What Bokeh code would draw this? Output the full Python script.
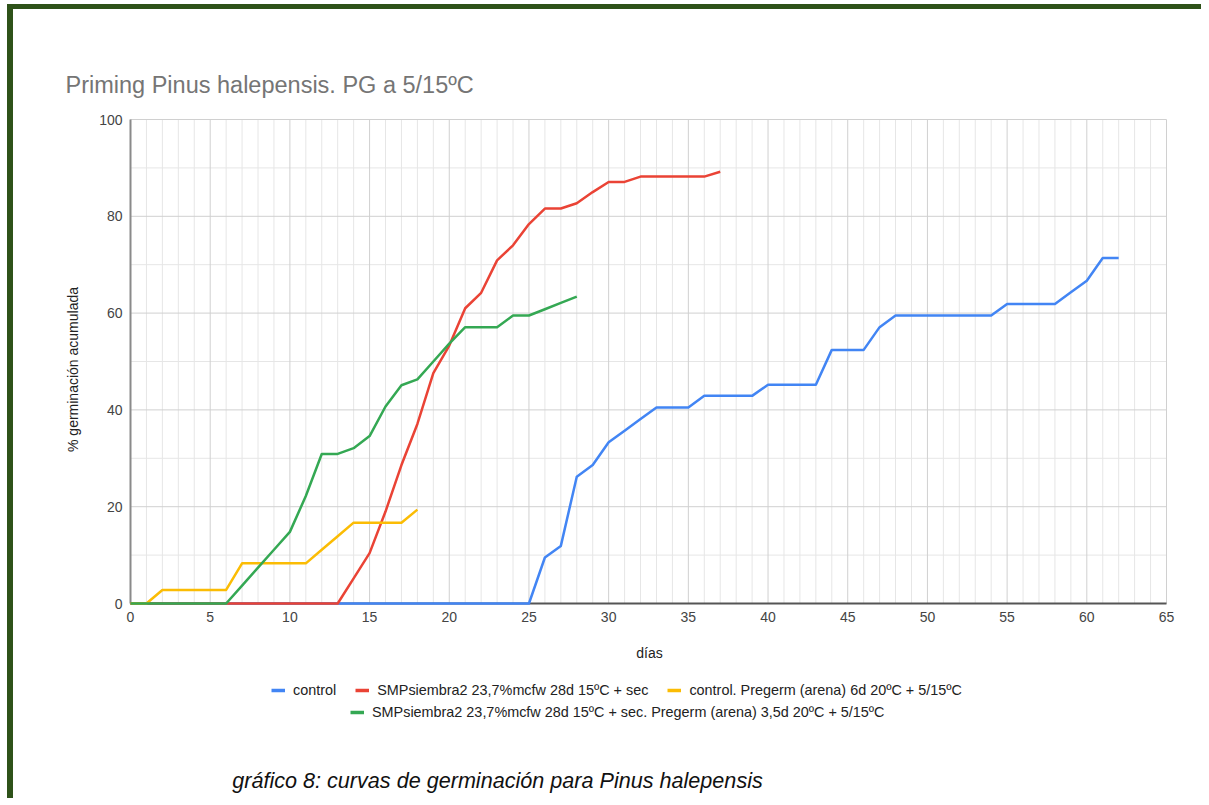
from bokeh.plotting import figure
from bokeh.models import Range1d, Legend, LegendItem
from bokeh.embed import file_html
from bokeh.resources import INLINE
from bokeh.core.properties import value
import math

# ---------------- data ----------------
title_text = "Priming Pinus halepensis. PG a 5/15ºC"
x_label = "días"
y_label = "% germinación acumulada"
caption_text = "gráfico 8: curvas de germinación para Pinus halepensis"

series_names = [
    "control",
    "SMPsiembra2 23,7%mcfw 28d 15ºC + sec",
    "control. Pregerm (arena) 6d 20ºC + 5/15ºC",
    "SMPsiembra2 23,7%mcfw 28d 15ºC + sec. Pregerm (arena) 3,5d 20ºC + 5/15ºC",
]
series_colors = ["#4285F4", "#EA4335", "#FBBC04", "#34A853"]

control_days = list(range(0, 63))
control_vals = [0, 0, 0, 0, 0, 0, 0, 0, 0, 0,
                0, 0, 0, 0, 0, 0, 0, 0, 0, 0,
                0, 0, 0, 0, 0, 0, 9.5, 11.9, 26.2, 28.6,
                33.3, 35.7, 38.1, 40.5, 40.5, 40.5, 42.9, 42.9, 42.9, 42.9,
                45.2, 45.2, 45.2, 45.2, 52.4, 52.4, 52.4, 57.1, 59.5, 59.5,
                59.5, 59.5, 59.5, 59.5, 59.5, 61.9, 61.9, 61.9, 61.9, 64.3,
                66.7, 71.4, 71.4]

smp_days = list(range(0, 38))
smp_vals = [0, 0, 0, 0, 0, 0, 0, 0, 0, 0,
            0, 0, 0, 0, 5.2, 10.4, 19.0, 28.6, 37.1, 47.6,
            53.3, 61.0, 64.2, 70.9, 74.0, 78.4, 81.6, 81.6, 82.7, 85.0,
            87.1, 87.1, 88.2, 88.2, 88.2, 88.2, 88.2, 89.2]

ctrl_pre_days = list(range(0, 19))
ctrl_pre_vals = [0, 0, 2.8, 2.8, 2.8, 2.8, 2.8, 8.3, 8.3, 8.3,
                 8.3, 8.3, 11.1, 13.9, 16.7, 16.7, 16.7, 16.7, 19.4]

smp_pre_days = list(range(0, 29))
smp_pre_vals = [0, 0, 0, 0, 0, 0, 0, 3.7, 7.4, 11.1,
                14.8, 22.2, 30.9, 30.9, 32.1, 34.6, 40.7, 45.1, 46.3, 50.0,
                53.7, 57.1, 57.1, 57.1, 59.5, 59.5, 60.8, 62.1, 63.4]

x_ticks = [0, 5, 10, 15, 20, 25, 30, 35, 40, 45, 50, 55, 60, 65]
y_ticks = [0, 20, 40, 60, 80, 100]
x_minor_step = 1
y_minor_step = 10
x_min, x_max = 0, 65
y_min, y_max = 0, 100

# ---------------- layout (page pixels) ----------------
FONT = "Liberation Sans"
W, H = 1194, 794
CANVAS_X, CANVAS_Y = 13, 9          # canvas origin on page
PLOT_L, PLOT_R, PLOT_T, PLOT_B = 130, 1166, 119, 603
ppx = (PLOT_R - PLOT_L) / (x_max - x_min)
ppy = (PLOT_B - PLOT_T) / (y_max - y_min)


def px2x(px):
    return x_min + (px - PLOT_L) / ppx


def py2y(py):
    return y_min + (PLOT_B - py) / ppy


p = figure(width=W, height=H, output_backend="svg", toolbar_location=None,
           x_range=Range1d(px2x(CANVAS_X), px2x(CANVAS_X + W)),
           y_range=Range1d(py2y(CANVAS_Y + H), py2y(CANVAS_Y)),
           x_axis_location=None, y_axis_location=None,
           min_border=0, title=None)
p.styles = {"border-top": "5px solid #2e5219", "border-left": "6px solid #2e5219",
            "margin-top": "4px", "margin-left": "7px"}
p.outline_line_color = None
p.grid.visible = False
p.background_fill_color = "white"
p.border_fill_color = "white"

# ---------------- grid ----------------
minor_x = [v for v in range(x_min, x_max + 1, x_minor_step) if v not in x_ticks]
minor_y = [v for v in range(y_min, y_max + 1, y_minor_step) if v not in y_ticks]
p.segment(x0=minor_x, y0=[y_min] * len(minor_x), x1=minor_x, y1=[y_max] * len(minor_x),
          line_color="#e6e6e6", line_width=1)
p.segment(x0=[x_min] * len(minor_y), y0=minor_y, x1=[x_max] * len(minor_y), y1=minor_y,
          line_color="#e6e6e6", line_width=1)
p.segment(x0=x_ticks, y0=[y_min] * len(x_ticks), x1=x_ticks, y1=[y_max] * len(x_ticks),
          line_color="#d0d0d0", line_width=1)
p.segment(x0=[x_min] * len(y_ticks), y0=y_ticks, x1=[x_max] * len(y_ticks), y1=y_ticks,
          line_color="#d0d0d0", line_width=1)
# axis baselines
p.segment(x0=[x_min], y0=[y_min], x1=[x_min], y1=[y_max], line_color="#8a8a8a", line_width=2)
p.segment(x0=[x_min], y0=[y_min], x1=[x_max], y1=[y_min], line_color="#555555", line_width=2)

# tick labels
p.text(x=x_ticks, y=[y_min] * len(x_ticks), text=[str(t) for t in x_ticks],
       y_offset=8, text_align="center", text_baseline="top",
       text_font=value(FONT), text_font_size="14px", text_color="#444444")
p.text(x=[x_min] * len(y_ticks), y=y_ticks, text=[str(t) for t in y_ticks],
       x_offset=-8, text_align="right", text_baseline="middle",
       text_font=value(FONT), text_font_size="14px", text_color="#444444")

# ---------------- series ----------------
all_days = [control_days, smp_days, ctrl_pre_days, smp_pre_days]
all_vals = [control_vals, smp_vals, ctrl_pre_vals, smp_pre_vals]
for d, v, c in zip(all_days, all_vals, series_colors):
    p.line(d, v, line_color=c, line_width=2.5, line_join="round")

# ---------------- texts ----------------
p.text(x=[px2x(65)], y=[py2y(84)], text=[title_text], text_align="left",
       text_baseline="alphabetic", text_font=value(FONT), text_font_size="23.5px",
       text_color="#757575")
p.text(x=[px2x(72)], y=[py2y(369)], text=[y_label], angle=math.pi / 2,
       text_align="center", text_baseline="middle", text_font=value(FONT),
       text_font_size="14px", text_color="#222222")
p.text(x=[px2x(649)], y=[py2y(652)], text=[x_label], text_align="center",
       text_baseline="middle", text_font=value(FONT), text_font_size="14px",
       text_color="#222222")
p.text(x=[px2x(497)], y=[py2y(780)], text=[caption_text], text_align="center",
       text_baseline="middle", text_font=value(FONT), text_font_size="21.6px",
       text_font_style="italic", text_color="#111111")

# ---------------- legend ----------------
nan = float("nan")
items = []
for name, c in zip(series_names, series_colors):
    # legend proxy: a line with no drawable point, thicker swatch like the reference
    r = p.line([nan, nan], [nan, nan], line_color=c, line_width=3.5)
    items.append(LegendItem(label=name, renderers=[r]))

common = dict(orientation="horizontal", glyph_width=14, glyph_height=16,
              label_height=16, label_standoff=8, spacing=19, padding=0,
              margin=0, border_line_color=None, background_fill_alpha=0,
              label_text_font=FONT, label_text_font_size="14.4px",
              label_text_color="#222222", click_policy="none")
leg1 = Legend(items=items[:3], location=(271 - CANVAS_X, CANVAS_Y + H - 698), **common)
leg2 = Legend(items=items[3:], location=(350 - CANVAS_X, CANVAS_Y + H - 719.5), **common)
p.add_layout(leg1)
p.add_layout(leg2)

open("out.html", "w").write(file_html(p, INLINE))
